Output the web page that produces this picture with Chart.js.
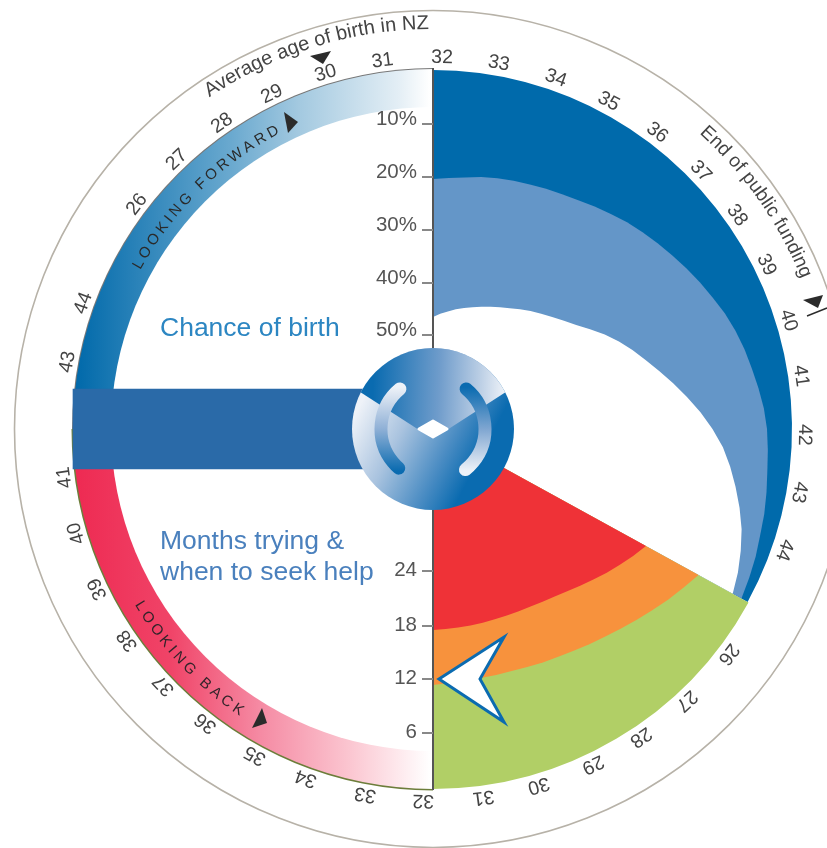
<!DOCTYPE html>
<html>
<head>
<meta charset="utf-8">
<style>
html,body{margin:0;padding:0;background:#fff;width:827px;height:848px;overflow:hidden}
#wrap{position:relative;width:827px;height:848px;overflow:hidden}
canvas{position:absolute;left:13px;top:9px}
svg{position:absolute;left:0;top:0}
svg text{font-family:"Liberation Sans",Arial,sans-serif}
</style>
<script src="https://cdn.jsdelivr.net/npm/chart.js@4"></script>
</head>
<body>
<div id="wrap">
<canvas id="dial" width="840" height="840"></canvas>
<canvas id="band" width="840" height="840"></canvas>
<svg id="curved" width="827" height="848" viewBox="0 0 827 848"></svg>
</div>
<script>
// ---- data (radial unit = distance from dial centre) ----
// one reading per spoke; spokes are 3.6 degrees apart, clockwise from the top
const chanceFundedOuter = [250,251.5,253.5,256.5,259,261,263,265.5,268,271,275,279,283.5,287.5,291.5,295.5,300,304.5,309,314,318,321.5,324.5,328,331.5,334,335.5,337,339.5,342,344,347,349.5,352];
const chanceFundedInner = [112,115.5,118.5,122,125,128,131.5,135,139,143,148,153,158,163.5,170,177,186,196,205.5,214.5,223.5,233.5,244.5,256,268,279.5,290.5,299.5,308,316.5,324.5,331,337,342];
const monthsRed = [243,237,231,225.5,220,215,210.5,207,204.5,202.5,201.5,200.5,200,200,200,200,200.5,201];
const monthsOrange = [303,296.5,290.5,284.5,279,274,269.5,266,262.5,260,258,256,254.5,254,253.5,253.5,254.5,256];
const chanceOuter = 359;
const monthsOuter = 360;
const ringOuter = 360;
const ringInner = 322;
const bandRange = [-360, -60];

const chanceTickLabels = ['10%','20%','30%','40%','50%'];
const chanceTickRadii = [305,252,199,146,94];
const monthTickLabels = ['6','12','18','24'];
const monthTickRadii = [304,250,197,142];

const ageLabels = ['32','33','34','35','36','37','38','39','40','41','42','43','44','26','27','28','29','30','31','32','33','34','35','36','37','38','39','40','41','43','44','26','27','28','29','30','31'];
const ageAngles = [1.4,10.2,19.3,28.2,37.1,46.1,54.9,63.8,73,81.8,90.9,99.8,109,127.3,137,146,154.5,163.5,172.2,181.5,190.5,200,208.6,217.7,226.4,235.3,244.5,253.7,262.5,280.4,289.8,307.2,316.4,325.4,334.3,343.2,352.2];

// ---- layout ----
const spokeCount = 100, monthsFirstSpoke = 33;
const fundedSweep = 118.8, monthsSweep = 61.2;
const CX = 433, CY = 429;
const blue = '#006aab', mid = '#6496c8', red = '#ef3237', orange = '#f7923d', green = '#b1cf66', bandBlue = '#2a6aa8';
const textDark = '#444';

function gradFn(stops){
  let g = null;
  return function(c){
    const chart = c.chart;
    if (!g) {
      const m = chart.width / 2;
      g = chart.ctx.createLinearGradient(m - 358, 0, m - 3, 0);
      stops.forEach(s => g.addColorStop(s[0], s[1]));
    }
    return g;
  };
}
function layer(label, values, color, angles){
  return { label, data: values, backgroundColor: color, borderColor: color,
           borderWidth: 0, angle: c => angles[c.dataIndex] };
}
function curve(label, values, color, firstSpoke){
  const data = new Array(spokeCount).fill(null);
  values.forEach((v,i)=>{ data[firstSpoke+i] = v; });
  return { type:'radar', label, data, backgroundColor: color, borderColor: color,
           borderWidth: 0, pointRadius: 0, pointHoverRadius: 0, fill: 'start', spanGaps: false, tension: 0 };
}
const forwardFill = gradFn([[0,'#0069aa'],[0.44,'#6aa9cf'],[0.63,'#a3c9e0'],[0.91,'#e3eef5'],[1,'#ffffff']]);
const backFill = gradFn([[0,'#ee2a52'],[0.27,'#f04468'],[0.52,'#f58aa3'],[0.77,'#fbc5d0'],[1,'#ffffff']]);

const datasets = [
  curve('red',monthsRed,red,monthsFirstSpoke),
  curve('orange',monthsOrange,orange,monthsFirstSpoke),
  layer('green',[0,monthsOuter],green,[fundedSweep,monthsSweep]),
  curve('white inner',chanceFundedInner,'#ffffff',0),
  curve('mid blue',chanceFundedOuter,mid,0),
  layer('dark blue',[chanceOuter],blue,[fundedSweep]),
  layer('ring hole',[0,ringInner],'#ffffff',[180,180]),
  layer('looking forward',[0,ringOuter],forwardFill,[270,90]),
  layer('looking back',[0,ringOuter],backFill,[180,90]),
  layer('edge forward',[0,ringOuter+1],'#777777',[270,90]),
  layer('edge back',[0,ringOuter+1.5],'#6c7d3a',[180,90])
];

function tri(ctx, pts){
  ctx.beginPath();
  pts.forEach((p,i)=> i ? ctx.lineTo(p[0]-13,p[1]-9) : ctx.moveTo(p[0]-13,p[1]-9));
  ctx.closePath(); ctx.fill();
}

const dialDecor = {
  id:'dialDecor',
  beforeDatasetsDraw(chart){
    const ctx = chart.ctx, s = chart.scales.r;
    ctx.save();
    ctx.beginPath();
    ctx.arc(s.xCenter, s.yCenter, s.getDistanceFromCenterForValue(418.5), 0, Math.PI*2);
    ctx.strokeStyle = '#b7b2a8'; ctx.lineWidth = 1.6; ctx.stroke();
    ctx.restore();
  },
  afterDatasetsDraw(chart){
    const ctx = chart.ctx, s = chart.scales.r;
    const x = s.xCenter, y = s.yCenter, d = v => s.getDistanceFromCenterForValue(v);
    ctx.save();
    // vertical axis
    ctx.strokeStyle = '#555'; ctx.lineWidth = 2;
    ctx.beginPath(); ctx.moveTo(x, y - d(361)); ctx.lineTo(x, y + d(361)); ctx.stroke();
    // scale ticks and labels
    ctx.textAlign='right'; ctx.textBaseline='middle';
    ctx.font = '20.5px "Liberation Sans", Arial, sans-serif';
    chanceTickLabels.forEach((t,i)=>{
      const yy = y - d(chanceTickRadii[i]);
      ctx.fillStyle='#888'; ctx.fillRect(x-11, yy-1, 11, 2);
      ctx.fillStyle='#555'; ctx.fillText(t, x-16, yy-4.5);
    });
    monthTickLabels.forEach((t,i)=>{
      const yy = y + d(monthTickRadii[i]);
      ctx.fillStyle='#888'; ctx.fillRect(x-11, yy-1, 11, 2);
      ctx.fillStyle='#555'; ctx.fillText(t, x-16, yy-0.5);
    });
    // rotated age labels
    ctx.fillStyle = textDark; ctx.textAlign='center';
    ctx.font = '19.5px "Liberation Sans", Arial, sans-serif';
    ageLabels.forEach((t,i)=>{
      const a = ageAngles[i]*Math.PI/180;
      ctx.save();
      ctx.translate(x + d(371.5)*Math.sin(a), y - d(371.5)*Math.cos(a));
      ctx.rotate(a);
      ctx.fillText(t,0,0);
      ctx.restore();
    });
    // headings
    ctx.textAlign='left'; ctx.font='26.5px "Liberation Sans", Arial, sans-serif';
    ctx.fillStyle='#2c86c2'; ctx.fillText('Chance of birth', 160-13, 329-9);
    ctx.fillStyle='#4a80bd';
    ctx.fillText('Months trying &', 160-13, 542-9);
    ctx.fillText('when to seek help', 160-13, 573-9);
    // small markers
    ctx.fillStyle='#2b2b2b';
    tri(ctx,[[310,56],[331,51],[323,64]]);
    tri(ctx,[[284,112],[298,122],[288,133]]);
    tri(ctx,[[803,300],[823,295],[818,308]]);
    tri(ctx,[[262,708],[267,723],[252,728]]);
    ctx.strokeStyle='#2b2b2b'; ctx.lineWidth=1.5;
    ctx.beginPath(); ctx.moveTo(807-13,316-9); ctx.lineTo(827-13,308-9); ctx.stroke();
    // month pointer
    ctx.beginPath();
    ctx.moveTo(439-13,679-9); ctx.lineTo(504-13,637-9); ctx.lineTo(480-13,679-9); ctx.lineTo(504-13,722-9); ctx.closePath();
    ctx.fillStyle='#fff'; ctx.fill();
    ctx.strokeStyle='#0b6bb0'; ctx.lineWidth=3; ctx.lineJoin='miter'; ctx.stroke();
    ctx.restore();
  }
};

new Chart(document.getElementById('dial'),{
  type:'polarArea',
  data:{ labels: new Array(spokeCount).fill(''), datasets },
  options:{
    responsive:false, animation:false, devicePixelRatio:1,
    layout:{padding:0},
    plugins:{legend:{display:false},tooltip:{enabled:false}},
    scales:{ r:{ min:0, max:420, startAngle:0,
      grid:{display:false, circular:true}, angleLines:{display:false},
      ticks:{display:false}, pointLabels:{display:false} } }
  },
  plugins:[dialDecor]
});

function drawHub(ctx,cx,cy){
  const R = 81;
  ctx.save();
  ctx.beginPath(); ctx.arc(cx,cy,R,0,Math.PI*2); ctx.clip();
  let g = ctx.createLinearGradient(cx-75,cy-20,cx+70,cy+55);
  g.addColorStop(0,'#eef2f8'); g.addColorStop(.3,'#a9c3df'); g.addColorStop(.6,'#4a8cc3'); g.addColorStop(.8,'#0a6bb0'); g.addColorStop(1,'#0a6bb0');
  ctx.fillStyle=g; ctx.fillRect(cx-R,cy-R,2*R,2*R);
  g = ctx.createLinearGradient(cx-60,cy-45,cx+72,cy-40);
  g.addColorStop(0,'#0a6bb0'); g.addColorStop(.5,'#6f9ccb'); g.addColorStop(.8,'#b9cde4'); g.addColorStop(1,'#eef2f8');
  ctx.fillStyle=g;
  ctx.beginPath();
  ctx.moveTo(cx-90,cy-48); ctx.lineTo(cx,cy+10); ctx.lineTo(cx+90,cy-48); ctx.lineTo(cx+90,cy-90); ctx.lineTo(cx-90,cy-90); ctx.closePath(); ctx.fill();
  // grips
  ctx.lineWidth=13; ctx.lineCap='round';
  g = ctx.createLinearGradient(0,cy-42,0,cy+42);
  g.addColorStop(0,'#eef2f8'); g.addColorStop(.5,'#8fb0d6'); g.addColorStop(1,'#0a6bb0');
  ctx.strokeStyle=g;
  ctx.beginPath(); ctx.arc(cx,cy,52,Math.atan2(-40,-33),Math.atan2(40,-35),true); ctx.stroke();
  g = ctx.createLinearGradient(0,cy-42,0,cy+42);
  g.addColorStop(0,'#0a6bb0'); g.addColorStop(.5,'#7fa6d1'); g.addColorStop(1,'#eef2f8');
  ctx.strokeStyle=g;
  ctx.beginPath(); ctx.arc(cx,cy,52,Math.atan2(-40,33),Math.atan2(40,32),false); ctx.stroke();
  // centre diamond
  ctx.fillStyle='#fff'; ctx.strokeStyle='#fff'; ctx.lineWidth=3; ctx.lineJoin='round';
  ctx.beginPath(); ctx.moveTo(cx-14,cy); ctx.lineTo(cx,cy-8); ctx.lineTo(cx+14,cy); ctx.lineTo(cx,cy+8); ctx.closePath(); ctx.fill(); ctx.stroke();
  ctx.restore();
}

new Chart(document.getElementById('band'),{
  type:'bar',
  data:{ labels:['band'], datasets:[{ data:[bandRange], backgroundColor:bandBlue, barThickness:80 }] },
  options:{
    indexAxis:'y', responsive:false, animation:false, devicePixelRatio:1,
    layout:{padding:0},
    plugins:{legend:{display:false},tooltip:{enabled:false}},
    scales:{ x:{display:false,min:-420,max:420}, y:{display:false} }
  },
  plugins:[{ id:'hub', afterDatasetsDraw(chart){
    const a = chart.chartArea;
    drawHub(chart.ctx, chart.scales.x.getPixelForValue(0), (a.top+a.bottom)/2);
  }}]
});

// curved captions as real text along arcs
const curvedTexts = [
  {text:'Average age of birth in NZ', r:400, from:-34, to:4, size:20, fill:'#444', spacing:0, cw:true},
  {text:'End of public funding', r:398, from:42, to:74, size:19.2, fill:'#444', spacing:0, cw:true},
  {text:'LOOKING FORWARD', r:333, from:-61.5, to:-20, size:15, fill:'#2a2a2a', spacing:3.5, cw:true},
  {text:'LOOKING BACK', r:346, from:239.5, to:200, size:15, fill:'#33242a', spacing:3.7, cw:false}
];
(function(){
  const svg = document.getElementById('curved'), NS='http://www.w3.org/2000/svg';
  const pt=(r,t)=>{const a=t*Math.PI/180;return [CX+r*Math.sin(a),CY-r*Math.cos(a)];};
  const defs=document.createElementNS(NS,'defs'); svg.appendChild(defs);
  curvedTexts.forEach((c,i)=>{
    const p=document.createElementNS(NS,'path'), s=pt(c.r,c.from), e=pt(c.r,c.to);
    p.setAttribute('id','arc'+i);
    p.setAttribute('d',`M${s[0]} ${s[1]} A${c.r} ${c.r} 0 0 ${c.cw?1:0} ${e[0]} ${e[1]}`);
    defs.appendChild(p);
    const t=document.createElementNS(NS,'text');
    t.setAttribute('font-size',c.size); t.setAttribute('fill',c.fill);
    if(c.spacing) t.setAttribute('letter-spacing',c.spacing);
    const tp=document.createElementNS(NS,'textPath');
    tp.setAttribute('href','#arc'+i); tp.textContent=c.text;
    t.appendChild(tp); svg.appendChild(t);
  });
})();
</script>
</body>
</html>
